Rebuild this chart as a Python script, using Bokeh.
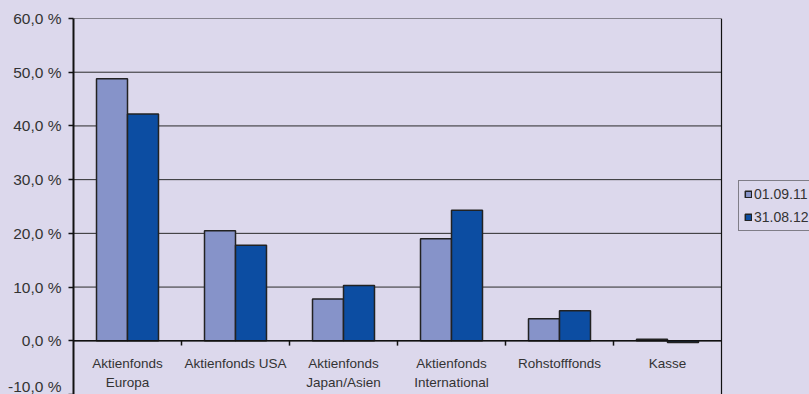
from bokeh.plotting import figure
from bokeh.models import (Range1d, FixedTicker, CustomJSTickFormatter,
                          Legend, LegendItem, ColumnDataSource)
from bokeh.core.properties import value
from bokeh.embed import file_html
from bokeh.resources import INLINE

# Portfolio allocation by fund type, two reporting dates (percent)
categories = ["Aktienfonds\nEuropa", "Aktienfonds USA", "Aktienfonds\nJapan/Asien",
              "Aktienfonds\nInternational", "Rohstofffonds", "Kasse"]
series_names = ["01.09.11", "31.08.12"]
values_2011 = [48.8, 20.5, 7.8, 19.0, 4.1, 0.3]
values_2012 = [42.2, 17.8, 10.3, 24.3, 5.6, -0.3]
y_ticks = [-10, 0, 10, 20, 30, 40, 50, 60]

BG = "#dcd8ec"
LIGHT = "#8693c9"
DARK = "#0c4da2"
EDGE = "#222222"
TEXT = "#333333"
FONT = "Liberation Sans"

n = len(categories)
bar_w = 0.287
centers = [i + 0.5 for i in range(n)]
source = ColumnDataSource(dict(
    cat=categories, xc=centers,
    x1=[c - bar_w / 2 for c in centers], x2=[c + bar_w / 2 for c in centers],
    v1=values_2011, v2=values_2012))

# the frame runs to the right edge so the legend can sit beside the bar area;
# the lavender backdrop comes from the page so frame and border show no seam
plot_w, area_w = 809 - 73, 648
p = figure(width=809, height=394, output_backend="svg", toolbar_location=None,
           x_range=Range1d(0, n * plot_w / area_w), y_range=Range1d(-10, 60),
           x_axis_location=None,
           min_border_left=73, min_border_right=0, min_border_top=18,
           min_border_bottom=0, background_fill_alpha=0, border_fill_alpha=0,
           outline_line_color=None)
p.grid.visible = False

# horizontal grid lines and right border of the bar area
p.segment(x0=[0] * len(y_ticks), x1=[n] * len(y_ticks), y0=y_ticks, y1=y_ticks,
          line_color="#2a2a2a", line_width=1)
p.segment(x0=[n], x1=[n], y0=[y_ticks[0]], y1=[y_ticks[-1]],
          line_color="#111111", line_width=1.2)

r1 = p.vbar(x="x1", top="v1", bottom=0, width=bar_w, source=source,
            fill_color=LIGHT, line_color=EDGE, line_width=1.5)
r2 = p.vbar(x="x2", top="v2", bottom=0, width=bar_w, source=source,
            fill_color=DARK, line_color=EDGE, line_width=1.5)

# zero baseline with separator ticks between the categories
p.segment(x0=[0], x1=[n], y0=[0], y1=[0], line_color="#111111", line_width=1.5)
sep = list(range(1, n))
p.segment(x0=sep, y0=[0] * len(sep), x1=sep, y1=[-0.9] * len(sep),
          line_color="#111111", line_width=1.5)

# category labels under the zero line
p.text(x="xc", y=-2.9, text="cat", source=source,
       text_align="center", text_baseline="top", text_font=value(FONT),
       text_font_size="13.5px", text_color=TEXT, text_line_height=1.24)

# y axis
p.yaxis.ticker = FixedTicker(ticks=y_ticks)
p.yaxis.formatter = CustomJSTickFormatter(
    code="return tick.toFixed(1).replace('.', ',') + ' %';")
p.yaxis.axis_line_color = "#111111"
p.yaxis.axis_line_width = 2
p.yaxis.major_tick_line_color = "#111111"
p.yaxis.major_tick_line_width = 1.5
p.yaxis.major_tick_out = 5
p.yaxis.major_tick_in = 0
p.yaxis.minor_tick_line_color = None
p.yaxis.major_label_text_font = FONT
p.yaxis.major_label_text_font_size = "15.5px"
p.yaxis.major_label_text_color = TEXT
p.yaxis.major_label_standoff = 7

legend = Legend(items=[LegendItem(label=series_names[0], renderers=[r1]),
                       LegendItem(label=series_names[1], renderers=[r2])],
                location=(665, 163), orientation="vertical",
                background_fill_color=BG, background_fill_alpha=1,
                border_line_color="#222222", border_line_width=1,
                label_text_font=FONT, label_text_font_size="14px",
                label_text_color=TEXT, glyph_width=8, glyph_height=8,
                label_standoff=2, label_height=10, spacing=7, padding=5, margin=0)
p.add_layout(legend, "center")

html = file_html(p, INLINE)
page_css = "<style>html, body { margin: 0; background: %s !important; }</style>" % BG
html = html.replace("</head>", page_css + "\n</head>", 1)
open("out.html", "w").write(html)
